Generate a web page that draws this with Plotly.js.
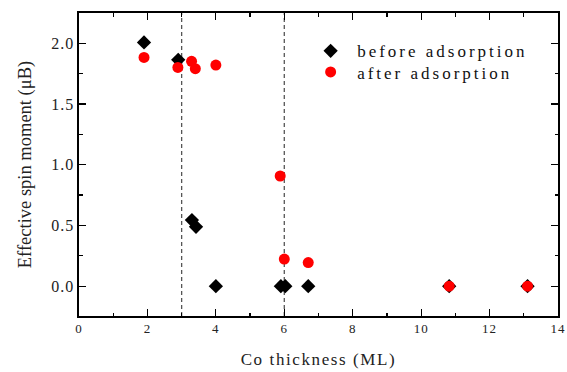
<!DOCTYPE html>
<html>
<head>
<meta charset="utf-8">
<script src="https://cdn.plot.ly/plotly-3.0.1.min.js"></script>
<style>
html,body{margin:0;padding:0;background:#fff;}
#chart{width:567px;height:372px;}
</style>
</head>
<body>
<div id="chart"></div>
<script>
// Data
const beforeX = [1.9, 2.9, 3.3, 3.42, 4.0, 5.9, 6.03, 6.7, 10.82, 13.11];
const beforeY = [2.006, 1.863, 0.544, 0.489, 0.0, 0.0, 0.0, 0.0, 0.0, 0.0];
const afterX  = [1.9, 2.89, 3.29, 3.4, 4.0, 5.88, 6.0, 6.7, 10.82, 13.11];
const afterY  = [1.882, 1.80, 1.85, 1.79, 1.82, 0.907, 0.223, 0.195, 0.0, 0.0];
const seriesNames = ["before adsorption", "after adsorption"];
const guideX = [3, 6];
const xTicks = [0, 2, 4, 6, 8, 10, 12, 14];
const yTicks = [0.0, 0.5, 1.0, 1.5, 2.0];
const yTickLabels = ["0.0", "0.5", "1.0", "1.5", "2.0"];

const serif = "'Liberation Serif', 'Times New Roman', serif";

const traces = [
  {x: beforeX, y: beforeY, name: seriesNames[0], type: "scatter", mode: "markers",
   marker: {symbol: "diamond", size: 11, color: "#000000", line: {width: 0}}},
  {x: afterX, y: afterY, name: seriesNames[1], type: "scatter", mode: "markers",
   marker: {symbol: "circle", size: 11, color: "#ff0000", line: {width: 0}}}
];

const axisCommon = {
  showgrid: false, zeroline: false, showline: true, linecolor: "#000", linewidth: 1.6,
  mirror: "ticks", ticks: "inside", ticklen: 7, tickwidth: 1.2, tickcolor: "#000",
};

const layout = {
  width: 567, height: 372,
  margin: {l: 79, r: 9, t: 13, b: 56, pad: 0},
  paper_bgcolor: "#fff", plot_bgcolor: "#fff",
  showlegend: true,
  legend: {x: 0.47, y: 0.933, xanchor: "left", yanchor: "top",
           font: {family: serif, size: 17, color: "#111"},
           bgcolor: "rgba(0,0,0,0)", borderwidth: 0, tracegroupgap: 0, itemwidth: 43},
  xaxis: Object.assign({}, axisCommon, {
    range: [0, 14], tickvals: xTicks, ticktext: xTicks.map(String),
    tickfont: {family: serif, size: 13, color: "#222"},
    minor: {dtick: 1, ticks: "inside", ticklen: 3.5, tickwidth: 1.2, tickcolor: "#000"},
    title: {text: "Co thickness (ML)", font: {family: serif, size: 17, color: "#222"}, standoff: 18}
  }),
  yaxis: Object.assign({}, axisCommon, {
    range: [-0.245, 2.248], tickvals: yTicks, ticktext: yTickLabels,
    tickfont: {family: serif, size: 16, color: "#222"},
    minor: {dtick: 0.25, ticks: "inside", ticklen: 3.5, tickwidth: 1.2, tickcolor: "#000"},
    title: {text: "Effective spin moment (μB)", font: {family: serif, size: 18.5, color: "#222"}, standoff: 18}
  }),
  shapes: guideX.map(v => ({type: "line", xref: "x", yref: "paper", x0: v, x1: v, y0: 0, y1: 1,
                            line: {color: "#555", width: 1.3, dash: "4px,3px"}, layer: "below"}))
};

Plotly.newPlot("chart", traces, layout, {displayModeBar: false, staticPlot: true}).then(gd => {
  gd.querySelectorAll(".legend [clip-path]").forEach(e => e.removeAttribute("clip-path"));
  gd.querySelectorAll(".legendtext").forEach(e => e.style.letterSpacing = "3px");
  const items = gd.querySelectorAll(".legend .traces");
  items.forEach((el, i) => {
    const t = el.getAttribute("transform") || "";
    const m = t.match(/translate\(\s*([-\d.]+)[ ,]+([-\d.]+)\s*\)/);
    if (m && i > 0) {
      el.setAttribute("transform", `translate(${m[1]},${parseFloat(m[2]) - 4 * i})`);
    }
  });
  gd.querySelectorAll(".xtitle").forEach(e => e.style.letterSpacing = "1.6px");
  gd.querySelectorAll(".xtick text").forEach(e => e.style.letterSpacing = "1px");
  gd.querySelectorAll(".ytick text").forEach(e => e.style.letterSpacing = "1px");
});
</script>
</body>
</html>
